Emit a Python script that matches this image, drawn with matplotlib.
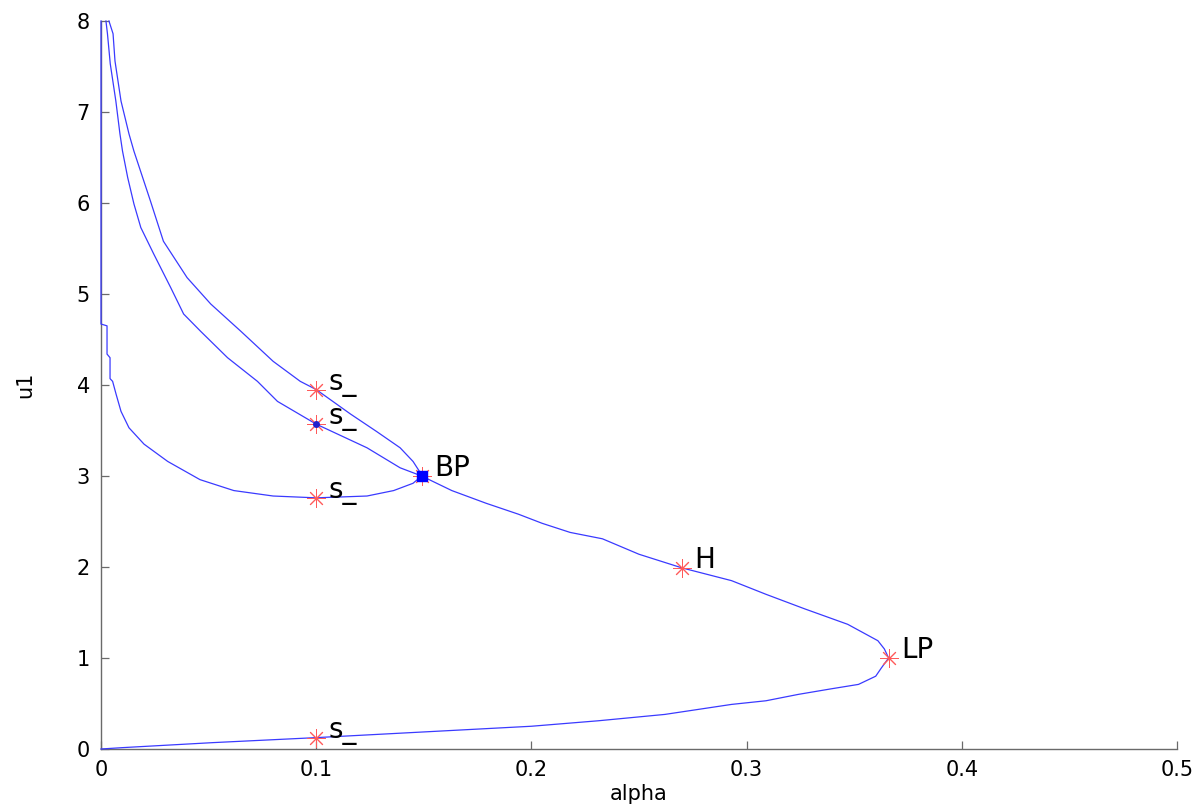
import matplotlib
matplotlib.use("Agg")
import matplotlib.pyplot as plt

# Main branch: from origin up to the limit point, back through H and BP, then the inner upper curve
main_alpha = [0.0, 0.01, 0.052, 0.1, 0.176, 0.2, 0.231, 0.262, 0.293, 0.309, 0.324, 0.339,
              0.352, 0.36, 0.3626, 0.366, 0.364, 0.361, 0.347, 0.327, 0.309, 0.293, 0.27,
              0.25, 0.233, 0.218, 0.205, 0.194, 0.179, 0.163, 0.149, 0.139, 0.1236, 0.1,
              0.082, 0.0727, 0.0588, 0.0463, 0.0384, 0.0324, 0.0245, 0.0185, 0.0153,
              0.0124, 0.0100, 0.0088, 0.0069, 0.0043, 0.0030, 0.0023]
main_u1 = [0.0, 0.015, 0.07, 0.125, 0.22, 0.25, 0.31, 0.38, 0.49, 0.53, 0.60, 0.66,
           0.71, 0.80, 0.89, 1.0, 1.10, 1.19, 1.37, 1.54, 1.70, 1.85, 1.99,
           2.14, 2.31, 2.38, 2.48, 2.58, 2.70, 2.84, 3.0, 3.09, 3.31, 3.57,
           3.82, 4.04, 4.30, 4.59, 4.78, 5.07, 5.44, 5.73, 5.99,
           6.28, 6.57, 6.76, 7.12, 7.53, 7.86, 8.0]

# Second upper branch from BP (outer curve)
outer_alpha = [0.149, 0.148, 0.145, 0.139, 0.128, 0.116, 0.1, 0.0926, 0.080, 0.065, 0.051,
               0.040, 0.029, 0.023, 0.0153, 0.013, 0.0093, 0.0065, 0.0056, 0.0037]
outer_u1 = [3.0, 3.05, 3.16, 3.31, 3.49, 3.68, 3.95, 4.04, 4.26, 4.59, 4.89,
            5.18, 5.58, 6.02, 6.57, 6.76, 7.12, 7.56, 7.86, 8.0]

# Lower-left loop from BP, reaching alpha = 0 and running up the axis
loop_alpha = [0.149, 0.145, 0.136, 0.1236, 0.1, 0.080, 0.0617, 0.046, 0.031, 0.020, 0.013,
              0.0093, 0.007, 0.0054, 0.0042, 0.0042, 0.0028, 0.0028, 0.0, 0.0]
loop_u1 = [3.0, 2.92, 2.84, 2.78, 2.76, 2.78, 2.84, 2.96, 3.16, 3.35, 3.53,
           3.71, 3.90, 4.04, 4.07, 4.30, 4.34, 4.65, 4.67, 8.0]

# Special points
pt_labels = ["s_", "s_", "s_", "s_", "BP", "H", "LP"]
pt_alpha = [0.1, 0.1, 0.1, 0.1, 0.149, 0.27, 0.366]
pt_u1 = [0.125, 2.76, 3.57, 3.95, 3.0, 1.99, 1.0]

xticks = [0, 0.1, 0.2, 0.3, 0.4, 0.5]
xticklabels = ["0", "0.1", "0.2", "0.3", "0.4", "0.5"]
yticks = [0, 1, 2, 3, 4, 5, 6, 7, 8]

plt.rcParams['font.family'] = ['DejaVu Sans']

fig = plt.figure(figsize=(11.93, 8.10), dpi=100)
ax = fig.add_axes([101 / 1193, 61 / 810, 1076 / 1193, 728 / 810])

lc = '#3a3aff'
for xs, ys in [(main_alpha, main_u1), (outer_alpha, outer_u1), (loop_alpha, loop_u1)]:
    ax.plot(xs, ys, color=lc, lw=0.9, clip_on=False, zorder=3)

ax.plot(pt_alpha, pt_u1, linestyle='none', marker=(8, 2, 0), markersize=13,
        markeredgecolor='#ff5a5a', markeredgewidth=0.7, clip_on=False, zorder=4)
ax.plot([pt_alpha[4]], [pt_u1[4]], linestyle='none', marker='s', markersize=7,
        color='#0000ff', zorder=5)
ax.plot([pt_alpha[2]], [pt_u1[2]], linestyle='none', marker='o', markersize=4,
        color='#2020cc', zorder=5)

for lab, a, u in zip(pt_labels, pt_alpha, pt_u1):
    ax.annotate(lab, (a, u), xytext=(9, 0), textcoords='offset points',
                fontsize=20, va='baseline', ha='left', color='black', zorder=6)

ax.set_xlim(0, 0.5)
ax.set_ylim(0, 8)
ax.set_xticks(xticks)
ax.set_xticklabels(xticklabels)
ax.set_yticks(yticks)
for s in ['top', 'right']:
    ax.spines[s].set_visible(False)
for s in ['left', 'bottom']:
    ax.spines[s].set_color('#6a6a6a')
    ax.spines[s].set_linewidth(1.0)
ax.tick_params(direction='in', length=6, width=0.9, color='#6a6a6a',
               labelsize=15, labelcolor='black', pad=8)
ax.set_xlabel('alpha', fontsize=15, labelpad=3)
ax.set_ylabel('u1', fontsize=15, labelpad=30)

fig.savefig('out.png', dpi=100)
